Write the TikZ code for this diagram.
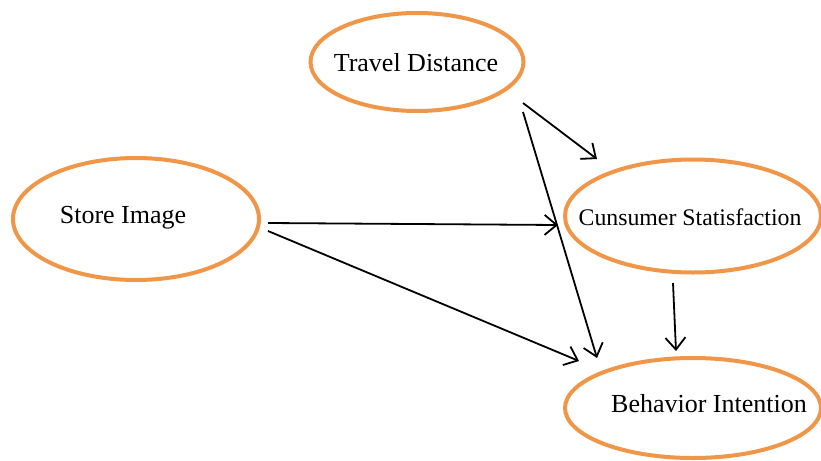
\documentclass[tikz,border=0pt]{standalone}
\usepackage{fontspec}
\setmainfont{Liberation Serif}
\usetikzlibrary{shapes.geometric,arrows.meta}
\definecolor{ovalorange}{RGB}{240,150,72}
\begin{document}
\begin{tikzpicture}[x=1pt,y=-1pt,
  oval/.style={ellipse, draw=ovalorange, line width=4pt, inner sep=0pt, fill=white},
  lbl/.style={inner sep=0pt, font=\fontsize{26}{30}\selectfont},
  lblsmall/.style={inner sep=0pt, font=\fontsize{23.8}{28}\selectfont},
  link/.style={line width=1.8pt, -{Straight Barb[length=12pt,width=20pt,line width=1.8pt]}}]
\useasboundingbox (0,0) rectangle (821,460);
\clip (0,0) rectangle (821,460);
% ovals
\node[oval, minimum width=213pt, minimum height=98pt] (td) at (417,62) {};
\node[oval, minimum width=246pt, minimum height=122pt] (si) at (136,219) {};
\node[oval, minimum width=256pt, minimum height=113pt] (cs) at (693,216) {};
\node[oval, minimum width=256pt, minimum height=100pt] (bi) at (693,408) {};
% labels
\node[lbl, anchor=base] (tdl) at (416,71) {Travel Distance};
\node[lbl, anchor=base] (sil) at (123,223) {Store Image};
\node[lblsmall, anchor=base] (csl) at (690,225) {Cunsumer Statisfaction};
\node[lbl, anchor=base] (bil) at (709,412) {Behavior Intention};
% connector ends
\coordinate (tdA) at (523,103);
\coordinate (tdB) at (523,112);
\coordinate (siA) at (268,223);
\coordinate (siB) at (268,231);
\coordinate (csIn) at (597,159);
\coordinate (csInL) at (558,225);
\coordinate (csOut) at (673,283);
\coordinate (biInA) at (597,358);
\coordinate (biInB) at (579,361);
\coordinate (biInC) at (676,351);
% connectors
\draw[link] (tdA) -- (csIn);
\draw[link] (tdB) -- (biInA);
\draw[link] (siA) -- (csInL);
\draw[link] (siB) -- (biInB);
\draw[link] (csOut) -- (biInC);
\end{tikzpicture}
\end{document}
